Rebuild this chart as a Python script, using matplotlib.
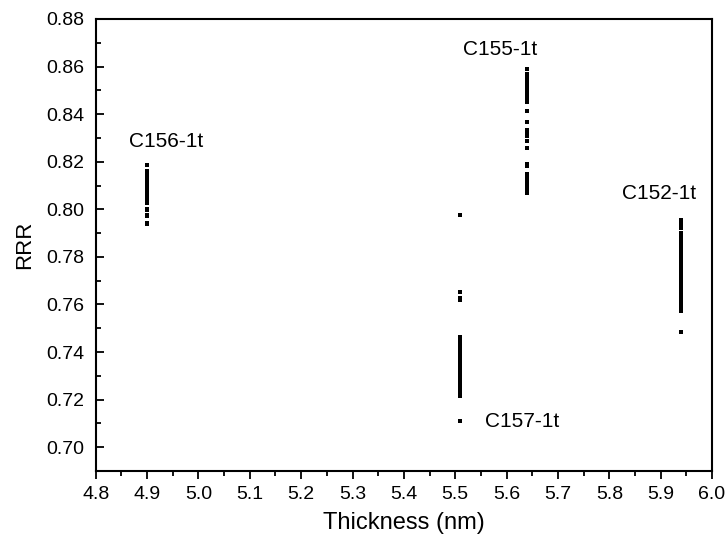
import numpy as np
import matplotlib.pyplot as plt
from matplotlib.ticker import MultipleLocator, FormatStrFormatter

plt.rcParams['font.family'] = ['Liberation Sans', 'DejaVu Sans']

# RRR values, one list per sample
c156_x = 4.90
c156_rrr = [0.8186, 0.8160, 0.8152, 0.8144, 0.8137, 0.8130, 0.8122, 0.8114, 0.8107,
            0.8100, 0.8092, 0.8084, 0.8077, 0.8070, 0.8062, 0.8054, 0.8047, 0.8040,
            0.8027, 0.8000, 0.7995, 0.7974, 0.7970, 0.7942, 0.7937]

c157_x = 5.51
c157_rrr = [0.7978, 0.7653, 0.7627, 0.7620, 0.7462, 0.7454, 0.7447, 0.7440, 0.7432,
            0.7424, 0.7417, 0.7410, 0.7402, 0.7394, 0.7387, 0.7380, 0.7372, 0.7364,
            0.7357, 0.7350, 0.7342, 0.7334, 0.7327, 0.7320, 0.7312, 0.7304, 0.7297,
            0.7290, 0.7282, 0.7274, 0.7267, 0.7260, 0.7252, 0.7244, 0.7237, 0.7230,
            0.7222, 0.7214, 0.7112]

c155_x = 5.64
c155_rrr = [0.8590, 0.8569, 0.8562, 0.8554, 0.8547, 0.8539, 0.8532, 0.8524, 0.8517,
            0.8509, 0.8502, 0.8494, 0.8487, 0.8477, 0.8467, 0.8457, 0.8449, 0.8412,
            0.8367, 0.8332, 0.8320, 0.8308, 0.8287, 0.8257, 0.8192, 0.8180, 0.8150,
            0.8142, 0.8134, 0.8127, 0.8119, 0.8112, 0.8102, 0.8094, 0.8087, 0.8077,
            0.8070]

c152_x = 5.94
c152_rrr = [0.7957, 0.7937, 0.7922, 0.7902, 0.7890, 0.7874, 0.7862, 0.7850, 0.7835,
            0.7827, 0.7819, 0.7812, 0.7804, 0.7797, 0.7789, 0.7782, 0.7774, 0.7767,
            0.7759, 0.7752, 0.7744, 0.7737, 0.7729, 0.7722, 0.7714, 0.7707, 0.7699,
            0.7692, 0.7684, 0.7677, 0.7669, 0.7662, 0.7654, 0.7647, 0.7639, 0.7632,
            0.7624, 0.7617, 0.7609, 0.7602, 0.7594, 0.7587, 0.7579, 0.7574, 0.7485]

fig = plt.figure(figsize=(7.26, 5.47), dpi=100)
ax = fig.add_axes([0.1318, 0.139, 0.849, 0.8263])

for xv, yv in [(c156_x, c156_rrr), (c157_x, c157_rrr), (c155_x, c155_rrr), (c152_x, c152_rrr)]:
    ax.plot([xv] * len(yv), yv, 's', color='black', markersize=3, markeredgewidth=0)

ax.text(4.937, 0.8285, 'C156-1t', ha='center', va='center', fontsize=15)
ax.text(5.588, 0.8672, 'C155-1t', ha='center', va='center', fontsize=15)
ax.text(5.897, 0.8068, 'C152-1t', ha='center', va='center', fontsize=15)
ax.text(5.557, 0.7110, 'C157-1t', ha='left', va='center', fontsize=15)

ax.set_xlim(4.8, 6.0)
ax.set_ylim(0.69, 0.88)
ax.xaxis.set_major_locator(MultipleLocator(0.1))
ax.xaxis.set_minor_locator(MultipleLocator(0.05))
ax.yaxis.set_major_locator(MultipleLocator(0.02))
ax.yaxis.set_minor_locator(MultipleLocator(0.01))
ax.xaxis.set_major_formatter(FormatStrFormatter('%.1f'))
ax.yaxis.set_major_formatter(FormatStrFormatter('%.2f'))
ax.tick_params(which='both', top=False, right=False, labelsize=14, width=1.3)
ax.tick_params(axis='x', which='both', direction='out', pad=5)
ax.tick_params(axis='y', which='both', direction='in', pad=8)
ax.tick_params(which='major', length=6)
ax.tick_params(which='minor', length=3.5)
for s in ax.spines.values():
    s.set_linewidth(1.5)

ax.set_xlabel('Thickness (nm)', fontsize=17, labelpad=6)
ax.set_ylabel('RRR', fontsize=16, labelpad=8)

fig.savefig('out.png')
